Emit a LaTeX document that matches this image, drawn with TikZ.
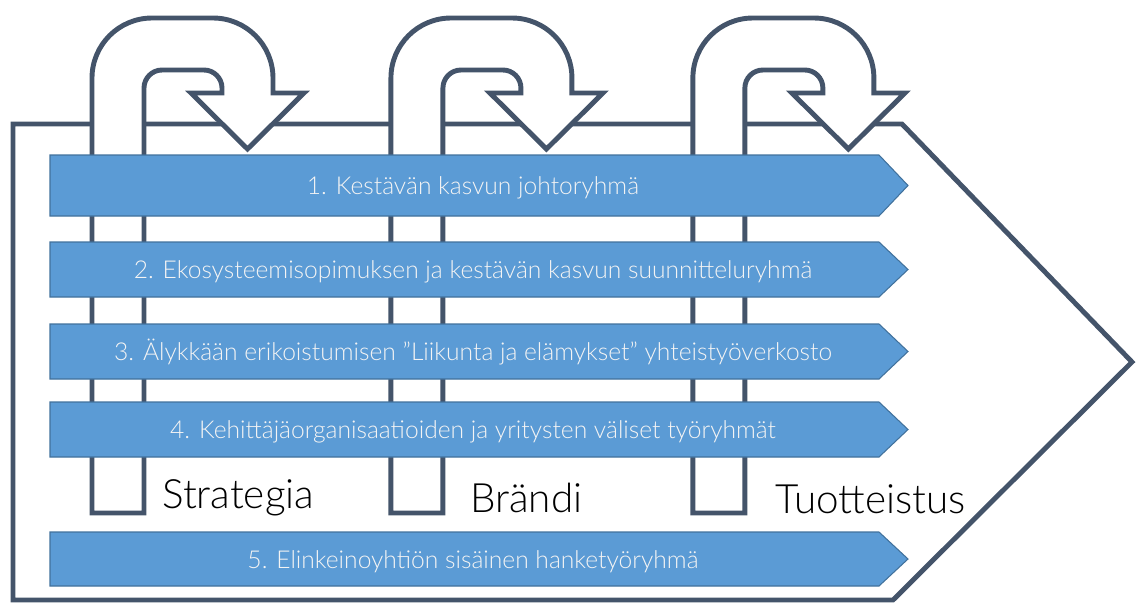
\documentclass[tikz,border=0pt]{standalone}
\usepackage{fontspec}
\setmainfont{Lato}[UprightFont=* Light]
\definecolor{reunavari}{HTML}{44546A}
\definecolor{palkkivari}{HTML}{5B9BD5}
\definecolor{palkkiraja}{HTML}{41719C}
\definecolor{palkkiteksti}{HTML}{F4F4F4}
\tikzset{
  reuna/.style={draw=reunavari, line width=2.8pt},
  silmukka/.style={draw=reunavari, fill=white, line width=2.8pt},
  palkki/.style={draw=palkkiraja, fill=palkkivari, line width=0.6pt},
  palkkiteksti/.style={anchor=base, inner sep=0pt, text=palkkiteksti,
    font=\fontsize{14}{16}\selectfont},
  otsikko/.style={anchor=base west, inner sep=0pt, text=black,
    font=\fontsize{23}{27}\selectfont}
}
% loop arrow over the top edge
\newcommand{\silmukka}[1]{%
\begin{scope}[#1]
\draw[silmukka] (92,513) -- (92,78) .. controls (92,44.9) and (118.9,18) .. (152,18)
  -- (213,18) .. controls (246.1,18) and (273,44.9) .. (273,78) -- (273,93)
  -- (304,93) -- (247.5,149) -- (191,93) -- (222,93) -- (222,88)
  .. controls (222,78.1) and (213.9,70) .. (204,70) -- (162,70)
  .. controls (152.1,70) and (144,78.1) .. (144,88) -- (144,513) -- cycle;
\end{scope}}
% banner: name, top, bottom, text
\newcommand{\palkki}[4]{%
\draw[palkki] (50,#2) -- (879,#2) -- (908,{(#2+#3)/2}) -- (879,#3) -- (50,#3) -- cycle;
\node[palkkiteksti] (#1) at (473,{(#2+#3)/2+9}) {#4};}

\begin{document}
\begin{tikzpicture}[x=0.02cm, y=-0.02cm]
\useasboundingbox (0,0) rectangle (1137,603);
\draw[reuna] (13,124) -- (902,124) -- (1132,362) -- (893,600) -- (13,600) -- cycle;
\silmukka{xshift=0cm}
\silmukka{xshift=5.98cm}
\silmukka{xshift=12.02cm}
\palkki{ryhma1}{155}{216}{1. Kestävän kasvun johtoryhmä}
\palkki{ryhma2}{242}{297}{2. Ekosysteemisopimuksen ja kestävän kasvun suunnitteluryhmä}
\palkki{ryhma3}{324}{379}{3. Älykkään erikoistumisen ”Liikunta ja elämykset” yhteistyöverkosto}
\palkki{ryhma4}{402}{457}{4. Kehittäjäorganisaatioiden ja yritysten väliset työryhmät}
\palkki{ryhma5}{532}{586}{5. Elinkeinoyhtiön sisäinen hanketyöryhmä}
\node[otsikko] (strategia) at (162,508) {Strategia};
\node[otsikko] (brandi) at (470,512) {Brändi};
\node[otsikko] (tuotteistus) at (775,513) {Tuotteistus};
\end{tikzpicture}
\end{document}
